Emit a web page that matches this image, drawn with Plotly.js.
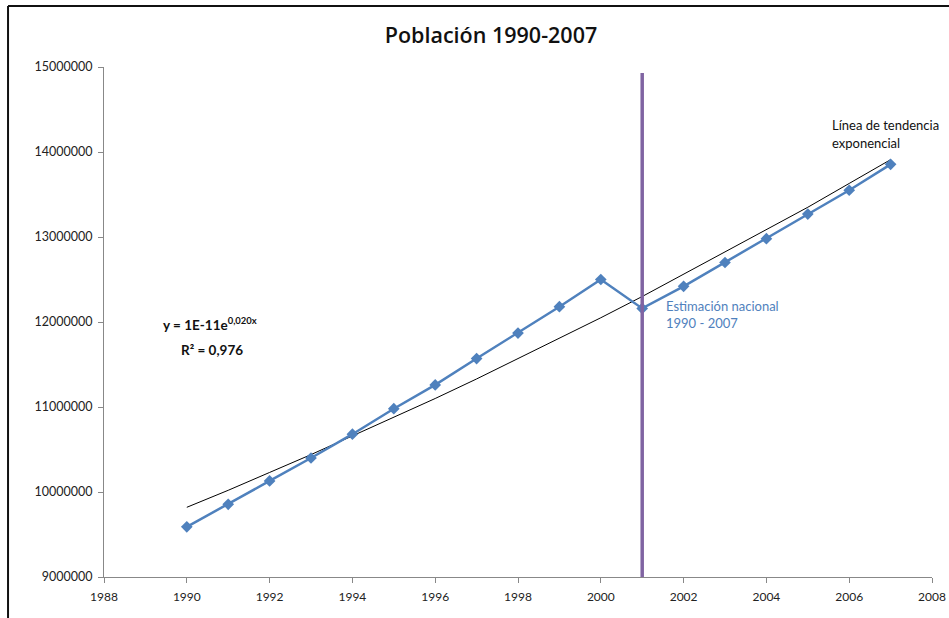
<!DOCTYPE html>
<html><head><meta charset="utf-8">
<script src="https://cdn.plot.ly/plotly-3.0.1.min.js"></script>
<style>html,body{margin:0;padding:0;background:#fff}#chart{width:949px;height:618px}</style>
</head><body><div id="chart"></div>
<script>
const years = [1990,1991,1992,1993,1994,1995,1996,1997,1998,1999,2000,2001,2002,2003,2004,2005,2006,2007];
const population = [9590000,9855000,10130000,10400000,10680000,10980000,11260000,11570000,11870000,12180000,12500000,12160000,12420000,12700000,12980000,13270000,13550000,13855000];
const trendValues = [9820000,10020000,10230000,10440000,10660000,10880000,11100000,11330000,11570000,11810000,12050000,12300000,12560000,12820000,13080000,13350000,13630000,13910000];
const markerYear = [2001,2001];
const markerRange = [9000000,14930000];
const yTicks = [9000000,10000000,11000000,12000000,13000000,14000000,15000000];
const xTicks = [1988,1990,1992,1994,1996,1998,2000,2002,2004,2006,2008];

const font = "Lato, 'Open Sans', sans-serif";
const traces = [
  {x: years, y: trendValues, type:'scatter', mode:'lines', line:{color:'#000', width:1}, hoverinfo:'skip'},
  {x: years, y: population, type:'scatter', mode:'lines+markers',
   line:{color:'#4F81BD', width:2.5}, marker:{symbol:'diamond', size:9, color:'#4F81BD'}},
  {x: markerYear, y: markerRange, type:'scatter', mode:'lines', line:{color:'#8064A2', width:3.5}}
];
function note(px, py, text, size, color, anchor, bold) {
  return {xref:'paper', yref:'paper', x:(px-104)/828, y:(577-py)/510, text:text, showarrow:false,
    font:{family:font, size:size, color:color, weight: bold ? 'bold' : 'normal'}, xanchor:anchor, yanchor:'middle'};
}
const layout = {
  width:949, height:618, showlegend:false,
  paper_bgcolor:'#fff', plot_bgcolor:'#fff',
  margin:{l:104, r:17, t:67, b:41},
  font:{family:font, color:'#222'},
  title:{text:'Población 1990-2007', font:{family:"'Open Sans', sans-serif", size:21.5, weight:600, color:'#111'}, x:491/949, xref:'container', xanchor:'center', y:1-35/618, yanchor:'middle'},
  xaxis:{range:[1988,2008], tickvals:xTicks, ticks:'outside', ticklen:5, tickcolor:'#888', ticklabelstandoff:4,
    showline:true, linecolor:'#888', linewidth:1, showgrid:false, zeroline:false,
    tickfont:{family:font, size:12, color:'#222'}},
  yaxis:{range:[9000000,15000000], tickvals:yTicks, tickformat:'d', ticks:'outside', ticklen:5, tickcolor:'#888', ticklabelstandoff:3,
    showline:true, linecolor:'#888', linewidth:1, showgrid:false, zeroline:false,
    tickfont:{family:font, size:12.5, color:'#222'}},
  shapes:[
    {type:'line', xref:'paper', yref:'paper', x0:-0.1159, x1:1.03, y0:1.1196, y1:1.1196, line:{color:'#111', width:2}},
    {type:'line', xref:'paper', yref:'paper', x0:-0.1159, x1:-0.1159, y0:1.1196, y1:-0.09, line:{color:'#111', width:2}}
  ],
  annotations:[
    note(210, 324, 'y = 1E-11e<sup>0,020x</sup>', 13.5, '#111', 'center', true),
    note(212, 350, 'R² = 0,976', 13.5, '#111', 'center', true),
    note(664, 306, 'Estimación nacional', 13, '#4F81BD', 'left', false),
    note(664, 323, '1990 - 2007', 13, '#4F81BD', 'left', false),
    note(830, 125, 'Línea de tendencia', 13, '#111', 'left', false),
    note(830, 143, 'exponencial', 13, '#111', 'left', false)
  ]
};
Plotly.newPlot('chart', traces, layout, {displayModeBar:false, staticPlot:true});
</script></body></html>
